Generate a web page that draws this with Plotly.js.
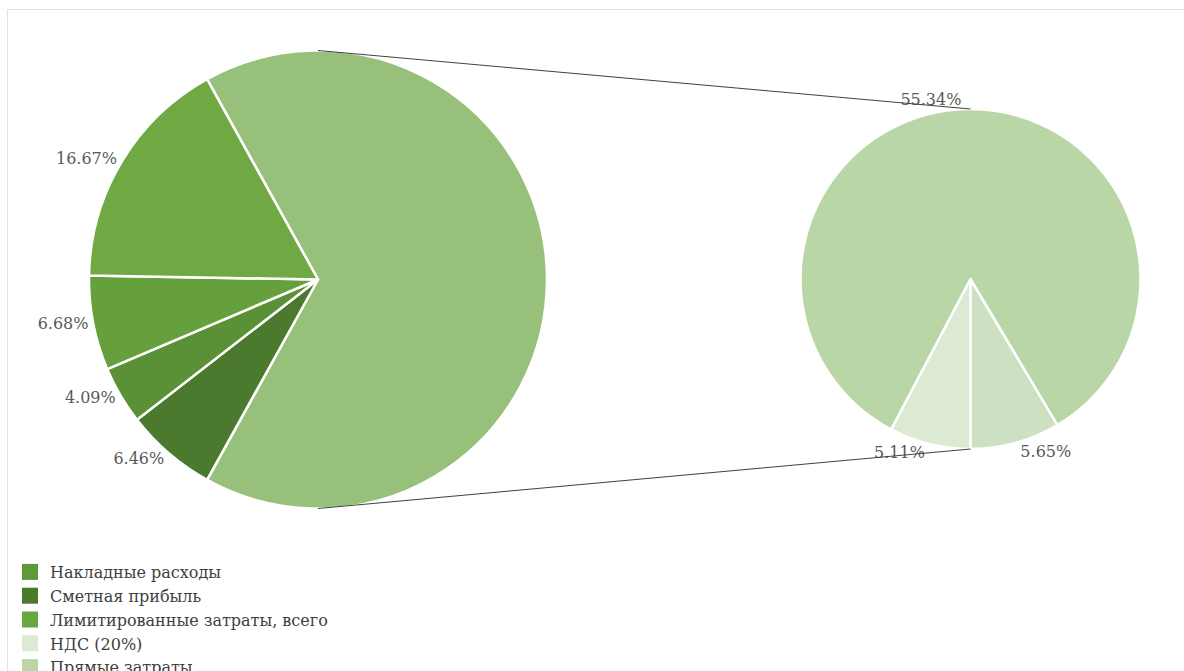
<!DOCTYPE html>
<html>
<head>
<meta charset="utf-8">
<script src="https://cdn.plot.ly/plotly-3.0.1.min.js"></script>
<style>html,body{margin:0;padding:0;background:#fff;}#chart{width:1184px;height:671px;}</style>
</head>
<body>
<div id="chart"></div>
<script>
// ---- data ----
// main (left) pie, clockwise starting with the aggregated slice
const mainLabels = ['Другое', 'Сметная прибыль', 'Прочие затраты', 'Накладные расходы', 'Лимитированные затраты, всего'];
const mainValues = [null, 6.46, 4.09, 6.68, 16.67];
const mainColors = ['#97c17a', '#4b7a2f', '#5a9136', '#66a03c', '#70a844'];
// secondary (right) pie, clockwise
const subLabels = ['Прочие затраты (2)', 'НДС (20%)', 'Прямые затраты'];
const subValues = [5.65, 5.11, 55.34];
const subColors = ['#cde1c2', '#dce9d3', '#b9d6a6'];
// legend entries (as in the reference)
const legendNames = ['Накладные расходы', 'Сметная прибыль', 'Лимитированные затраты, всего', 'НДС (20%)', 'Прямые затраты'];
const legendColors = ['#60993a', '#4b7a2f', '#6ba541', '#dde9d4', '#b9d6a6'];

// ---- derived ----
const otherValue = subValues.reduce((a, b) => a + b, 0);
const mainVals = mainValues.map(v => v === null ? otherValue : v);
const mainText = mainValues.map(v => v === null ? '' : v.toFixed(2) + '%');
const subText = subValues.map(v => v.toFixed(2) + '%');

const W = 1184, H = 671;
function dom(cx, cy, r) {
  return {x: [(cx - r) / W, (cx + r) / W], y: [1 - (cy + r) / H, 1 - (cy - r) / H]};
}
const domL = dom(318, 279.5, 229);
const domR = dom(970.5, 279, 170);

const serif = 'DejaVu Serif';
const txtFont = {family: serif, size: 16, color: '#595959'};

const traces = [
  {
    type: 'pie', labels: mainLabels, values: mainVals, sort: false,
    direction: 'clockwise', rotation: 90 - otherValue / 100 * 180,
    domain: domL, marker: {colors: mainColors, line: {color: '#ffffff', width: 2.5}},
    text: mainText, textinfo: 'text', textposition: 'outside',
    outsidetextfont: txtFont, textfont: txtFont, showlegend: false, hoverinfo: 'label+value'
  },
  {
    type: 'pie', labels: subLabels, values: subValues, sort: false,
    direction: 'clockwise', rotation: 180 - subValues[0] / otherValue * 360,
    domain: domR, marker: {colors: subColors, line: {color: '#ffffff', width: 2.5}},
    text: subText, textinfo: 'text', textposition: 'outside',
    outsidetextfont: txtFont, textfont: txtFont, showlegend: false, hoverinfo: 'label+value'
  }
];
legendNames.forEach((n, i) => {
  traces.push({
    type: 'scatter', mode: 'markers', x: [null], y: [null], name: n,
    marker: {symbol: 'square', size: 16, color: legendColors[i]},
    hoverinfo: 'skip', showlegend: true
  });
});

const layout = {
  width: W, height: H,
  margin: {l: 0, r: 0, t: 0, b: 0, autoexpand: false},
  paper_bgcolor: '#ffffff', plot_bgcolor: 'rgba(0,0,0,0)',
  font: {family: serif},
  xaxis: {visible: false, domain: [0, 0.001]},
  yaxis: {visible: false, domain: [0, 0.001]},
  showlegend: true,
  legend: {
    xref: 'container', yref: 'container', x: 10 / W, y: 1 - 555 / H,
    xanchor: 'left', yanchor: 'top', bgcolor: 'rgba(0,0,0,0)',
    font: {family: serif, size: 16, color: '#404040'}, tracegroupgap: 0
  },
  shapes: [
    {type: 'rect', xref: 'paper', yref: 'paper', x0: 7.5 / W, x1: 1.02, y0: -0.02, y1: 1 - 9.5 / H,
     line: {color: '#e3e3e3', width: 1}, layer: 'below'},
    {type: 'line', xref: 'paper', yref: 'paper',
     x0: (domL.x[0] + domL.x[1]) / 2, y0: domL.y[1], x1: (domR.x[0] + domR.x[1]) / 2, y1: domR.y[1],
     line: {color: '#404040', width: 1}},
    {type: 'line', xref: 'paper', yref: 'paper',
     x0: (domL.x[0] + domL.x[1]) / 2, y0: domL.y[0], x1: (domR.x[0] + domR.x[1]) / 2, y1: domR.y[0],
     line: {color: '#404040', width: 1}}
  ]
};

Plotly.newPlot('chart', traces, layout, {displayModeBar: false, staticPlot: true});
</script>
</body>
</html>
